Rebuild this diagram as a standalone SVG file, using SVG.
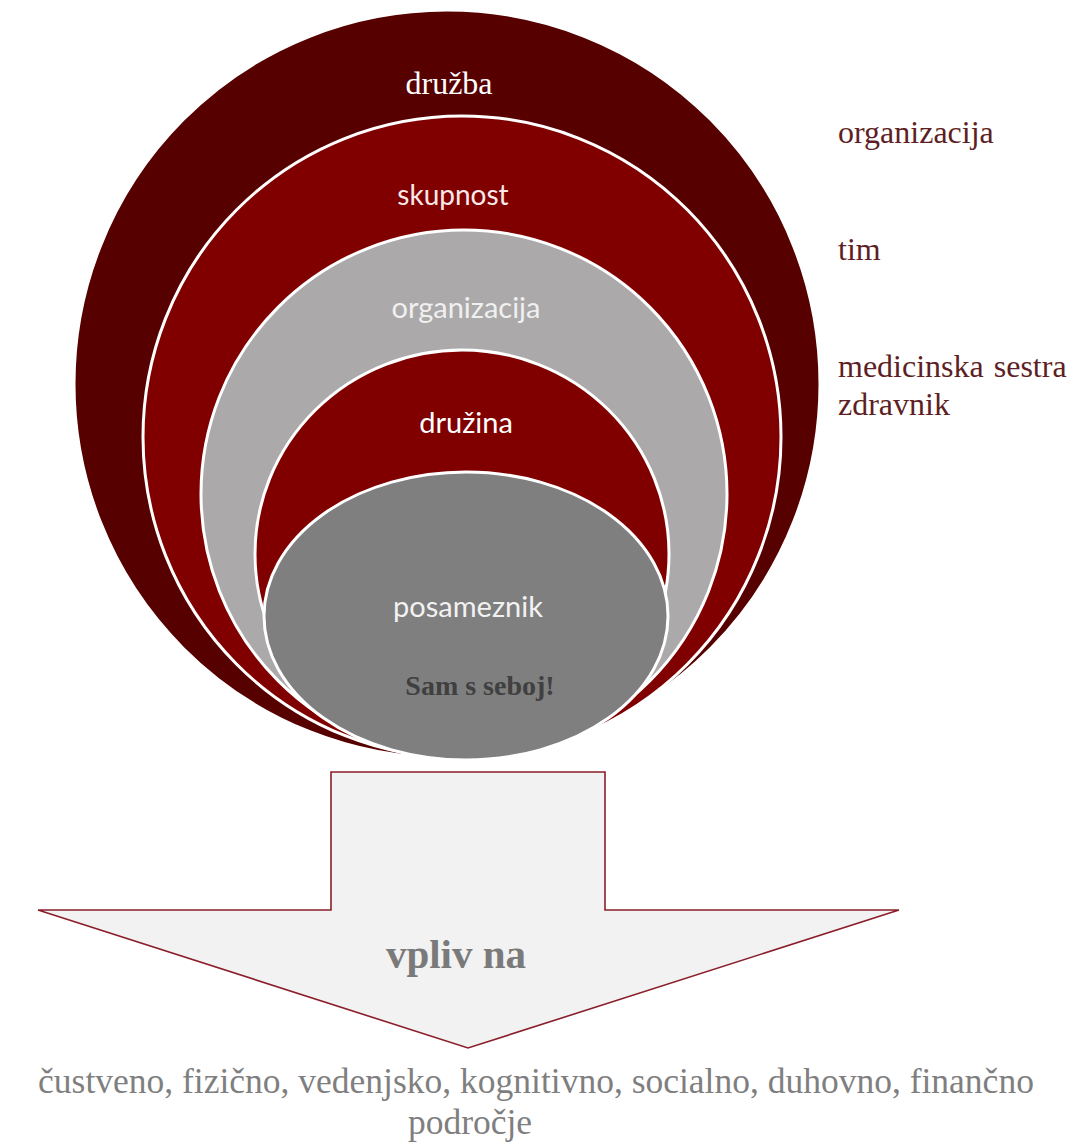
<svg xmlns="http://www.w3.org/2000/svg" width="1071" height="1144" viewBox="0 0 1071 1144">
  <style>
    .ring { stroke: #ffffff; stroke-width: 3; }
    .serif { font-family: "Liberation Serif", "Times New Roman", serif; }
    .sans { font-family: Lato, "Open Sans", "Liberation Sans", sans-serif; }
    .in { text-anchor: middle; }
    .side { font-family: "Liberation Serif", "Times New Roman", serif; font-size: 32px; fill: #5e1f24; }
  </style>
  <rect width="1071" height="1144" fill="#ffffff"/>

  <!-- stacked circles, all resting on the same bottom line -->
  <g id="druzba">
    <ellipse class="ring" cx="447" cy="384" rx="373" ry="374" fill="#570000"/>
    <text class="serif in" x="449" y="94" font-size="32" fill="#ffffff">družba</text>
  </g>
  <g id="skupnost">
    <ellipse class="ring" cx="462" cy="437" rx="319" ry="321" fill="#800000"/>
    <text class="sans in" x="453" y="205" font-size="28" fill="#fbe9e9">skupnost</text>
  </g>
  <g id="organizacija">
    <ellipse class="ring" cx="464" cy="494" rx="263" ry="264" fill="#aba9a9"/>
    <text class="sans in" x="466" y="318" font-size="29" fill="#f0f0f0">organizacija</text>
  </g>
  <g id="druzina">
    <ellipse class="ring" cx="462" cy="554" rx="207" ry="204" fill="#800000"/>
    <text class="sans in" x="466" y="433" font-size="29" fill="#ffffff">družina</text>
  </g>
  <g id="posameznik">
    <ellipse class="ring" cx="466" cy="616" rx="202" ry="144" fill="#7f7f7f"/>
    <text class="sans in" x="468" y="617" font-size="29" fill="#f2f2f2">posameznik</text>
    <text class="serif in" x="480" y="695" font-size="28" font-weight="bold" fill="#404040">Sam s seboj!</text>
  </g>

  <!-- labels beside the circles -->
  <g id="side-labels">
    <text class="side" x="838" y="143">organizacija</text>
    <text class="side" x="838" y="260">tim</text>
    <text class="side" x="838" y="377" word-spacing="2">medicinska sestra</text>
    <text class="side" x="838" y="415">zdravnik</text>
  </g>

  <!-- block arrow pointing down -->
  <g id="connectors">
    <g id="arrow">
      <polygon points="331,772 605,772 605,910 899,910 468,1048 38,910 331,910" fill="#f2f2f2" stroke="#8b1e2b" stroke-width="1.6" stroke-linejoin="miter"/>
      <text class="serif in" x="456" y="968" font-size="41" font-weight="bold" fill="#7a7a7a">vpliv na</text>
    </g>
  </g>

  <!-- affected areas -->
  <g id="areas">
    <text class="serif in" x="536" y="1093" font-size="35.5" fill="#7f7f7f">čustveno, fizično, vedenjsko, kognitivno, socialno, duhovno, finančno</text>
    <text class="serif in" x="470" y="1134" font-size="35.5" fill="#7f7f7f">področje</text>
  </g>
</svg>
